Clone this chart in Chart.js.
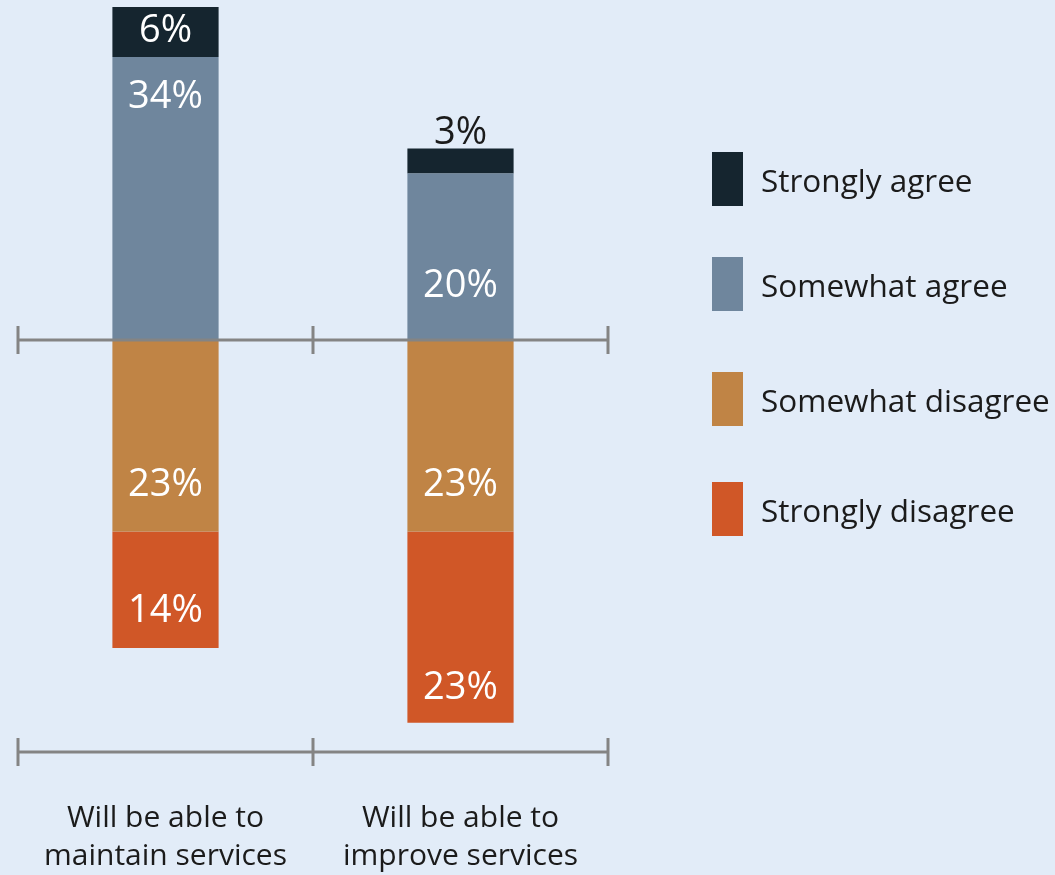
<!DOCTYPE html>
<html>
<head>
<meta charset="utf-8">
<script src="https://cdn.jsdelivr.net/npm/chart.js@4.4.1/dist/chart.umd.min.js"></script>
<style>
  html, body { margin: 0; padding: 0; background: #e2ecf8; }
  #wrap { position: relative; width: 1055px; height: 875px; overflow: hidden; }
  #chart { position: absolute; left: 0; top: 0; }
  #legend { position: absolute; left: 712px; top: 152px; font-family: "Open Sans", sans-serif; font-size: 31.5px; color: #1b1b1b; }
  .item { display: flex; align-items: center; height: 54px; }
  .box { width: 31px; height: 54px; margin-right: 18px; flex: none; }
</style>
</head>
<body>
<div id="wrap">
  <canvas id="chart" width="1055" height="875"></canvas>
  <div id="legend"></div>
</div>
<script>
'use strict';

/* ── Data ───────────────────────────────────────────────────────── */
const categories = [
    ['Will be able to', 'maintain services'],
    ['Will be able to', 'improve services']
];
const stronglyAgree    = [6, 3];
const somewhatAgree    = [34, 20];
const somewhatDisagree = [-23, -23];
const stronglyDisagree = [-14, -23];

const COLORS = {
    stronglyAgree: '#15252f',
    somewhatAgree: '#6f869d',
    somewhatDisagree: '#c08445',
    stronglyDisagree: '#d05727'
};

// where the % label sits inside each segment (0 = end near zero, 1 = outer end), null = above bar
const labelSpot = [
    [0.87, 0.34],
    [0.57, null],
    [0.74, 0.74],
    [0.66, 0.80]
];

const FONT = '"Open Sans", sans-serif';
const AXIS_GREY = '#848484';

/* ── Axis lines + labels plugin ─────────────────────────────────── */
const decorPlugin = {
    id: 'decor',
    afterDatasetsDraw(chart) {
        const { ctx, scales: { x, y } } = chart;
        const n = categories.length;
        const edges = [];
        for (let i = 0; i <= n; i++) edges.push(x.getPixelForValue(i - 0.5));

        ctx.save();
        ctx.strokeStyle = AXIS_GREY;
        ctx.lineWidth = 3;
        [y.getPixelForValue(0), y.bottom].forEach(py => {
            ctx.beginPath();
            ctx.moveTo(edges[0], py);
            ctx.lineTo(edges[n], py);
            edges.forEach(ex => {
                ctx.moveTo(ex, py - 14);
                ctx.lineTo(ex, py + 14);
            });
            ctx.stroke();
        });

        // value labels
        ctx.textAlign = 'center';
        ctx.textBaseline = 'alphabetic';
        ctx.font = `38px ${FONT}`;
        chart.data.datasets.forEach((ds, di) => {
            const meta = chart.getDatasetMeta(di);
            meta.data.forEach((bar, i) => {
                const v = ds.data[i];
                const spot = labelSpot[di][i];
                const txt = Math.abs(v) + '%';
                if (spot === null) {
                    ctx.fillStyle = '#1b1b1b';
                    ctx.fillText(txt, bar.x, bar.y - 5);
                } else {
                    ctx.fillStyle = '#ffffff';
                    const cy = bar.base + (bar.y - bar.base) * spot;
                    ctx.fillText(txt, bar.x, cy + 14);
                }
            });
        });

        // category labels
        ctx.fillStyle = '#1b1b1b';
        ctx.font = `30px ${FONT}`;
        categories.forEach((lines, i) => {
            const cx = x.getPixelForValue(i);
            lines.forEach((line, li) => {
                ctx.fillText(line, cx, y.bottom + 75 + li * 38);
            });
        });
        ctx.restore();
    }
};

/* ── Chart ──────────────────────────────────────────────────────── */
const ds = (label, data, color) => ({
    label, data,
    backgroundColor: color,
    borderWidth: 0,
    barPercentage: 1,
    categoryPercentage: 0.36
});

const chart = new Chart(document.getElementById('chart'), {
    type: 'bar',
    data: {
        labels: categories,
        datasets: [
            ds('Somewhat agree', somewhatAgree, COLORS.somewhatAgree),
            ds('Strongly agree', stronglyAgree, COLORS.stronglyAgree),
            ds('Somewhat disagree', somewhatDisagree, COLORS.somewhatDisagree),
            ds('Strongly disagree', stronglyDisagree, COLORS.stronglyDisagree)
        ]
    },
    options: {
        responsive: false,
        animation: false,
        layout: { padding: { left: 18, right: 447, top: 7, bottom: 123 } },
        plugins: { legend: { display: false }, tooltip: { enabled: false } },
        scales: {
            x: { stacked: true, display: false },
            y: { stacked: true, display: false, min: -49.5, max: 40 }
        }
    },
    plugins: [decorPlugin]
});

/* ── HTML legend ────────────────────────────────────────────────── */
const legendOrder = [
    ['Strongly agree', COLORS.stronglyAgree],
    ['Somewhat agree', COLORS.somewhatAgree],
    ['Somewhat disagree', COLORS.somewhatDisagree],
    ['Strongly disagree', COLORS.stronglyDisagree]
];
const legendGaps = [51, 61, 56, 0];
document.getElementById('legend').innerHTML = legendOrder.map(([t, c], i) =>
    `<div class="item" style="margin-bottom:${legendGaps[i]}px"><span class="box" style="background:${c}"></span><span>${t}</span></div>`
).join('');
</script>
</body>
</html>
